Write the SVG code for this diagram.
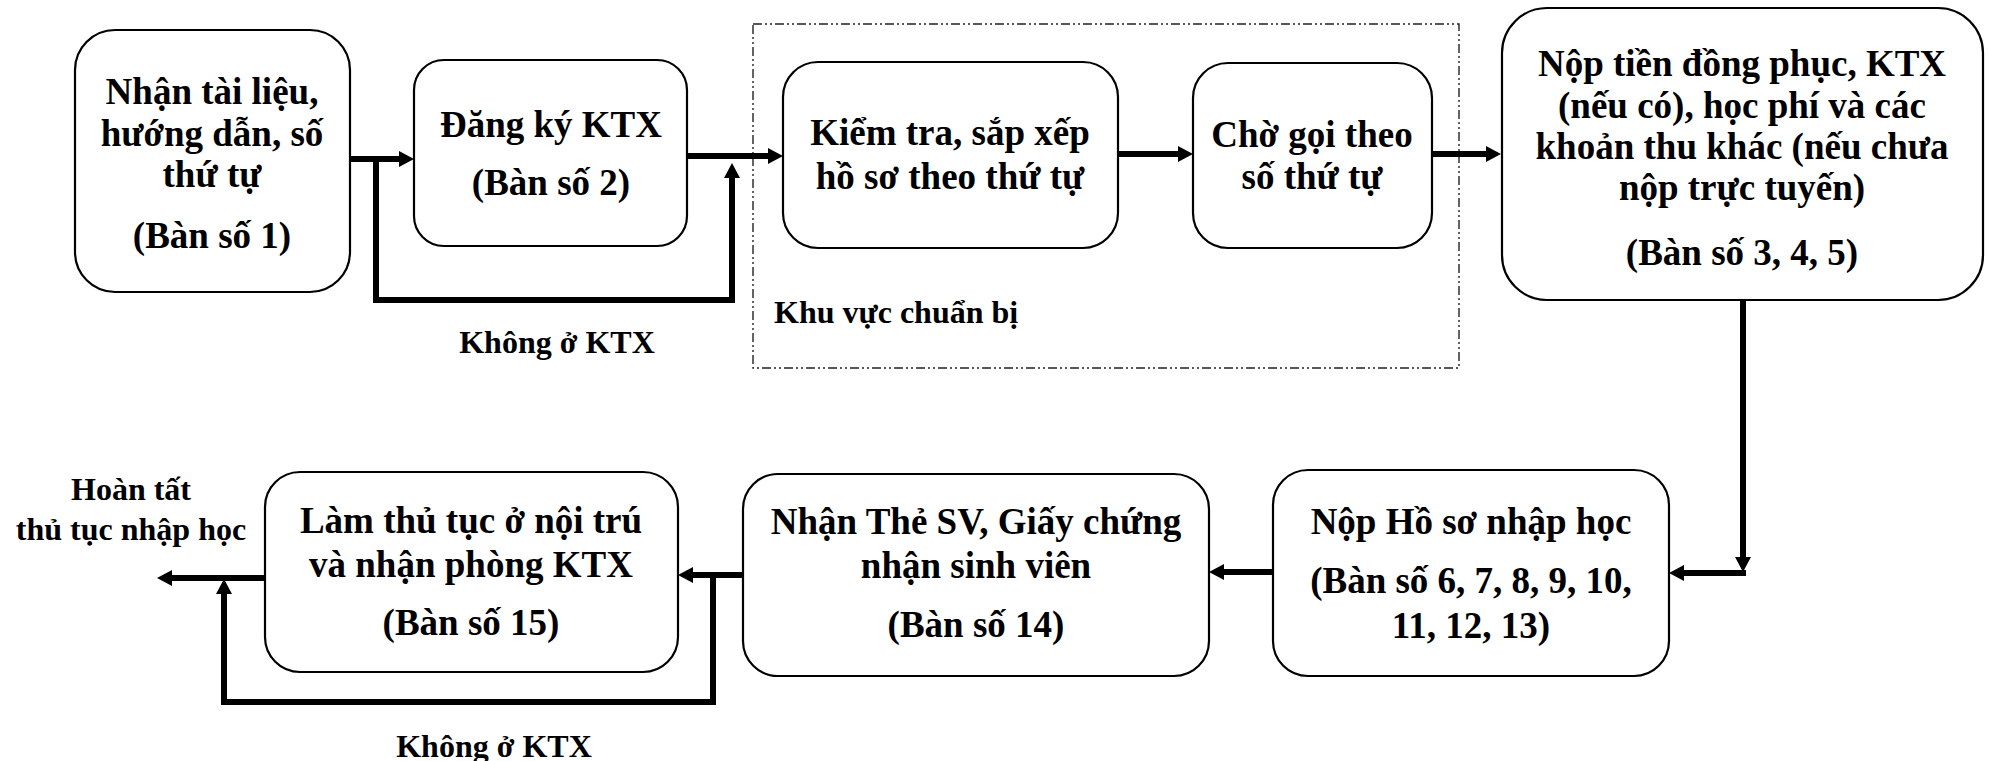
<svg xmlns="http://www.w3.org/2000/svg" width="1989" height="761" viewBox="0 0 1989 761">
<defs>
<style>
.box{fill:#fff;stroke:#000;stroke-width:2.2}
text{font-family:'Liberation Serif','Times New Roman','DejaVu Serif',serif;font-weight:700;fill:#000}
.t{font-size:37px;text-anchor:middle}
.l{font-size:32px}
.c{fill:none;stroke:#000;stroke-width:6;stroke-linejoin:miter}
.zone{fill:none;stroke:#222;stroke-width:1.4;stroke-dasharray:9 3 2 3 2 3}
</style>
<marker id="ah" markerUnits="userSpaceOnUse" markerWidth="16" markerHeight="17" refX="3" refY="8" orient="auto">
<path d="M0,0 L15,8 L0,16 z" fill="#000"/>
</marker>
</defs>
<rect width="1989" height="761" fill="#fff"/>

<g id="zone">
<rect class="zone" x="753" y="24" width="706" height="344"/>
<text class="l" x="774" y="323">Khu vực chuẩn bị</text>
</g>

<g id="connectors">
<path class="c" d="M350,159 H402" marker-end="url(#ah)"/>
<path class="c" d="M376,159 V300 H732 V175" marker-end="url(#ah)"/>
<path class="c" d="M687,156 H771" marker-end="url(#ah)"/>
<path class="c" d="M1118,154 H1181" marker-end="url(#ah)"/>
<path class="c" d="M1432,154 H1489" marker-end="url(#ah)"/>
<path class="c" d="M1743,300 V560" marker-end="url(#ah)"/>
<path class="c" d="M1746,573 H1681" marker-end="url(#ah)"/>
<path class="c" d="M1273,572 H1221" marker-end="url(#ah)"/>
<path class="c" d="M743,575 H690" marker-end="url(#ah)"/>
<path class="c" d="M713,578 V702 H224 V591" marker-end="url(#ah)"/>
<path class="c" d="M265,578 H169" marker-end="url(#ah)"/>
<text class="l" x="557" y="353" text-anchor="middle">Không ở KTX</text>
<text class="l" x="494" y="757" text-anchor="middle">Không ở KTX</text>
<text class="l" x="131" y="500" text-anchor="middle">Hoàn tất</text>
<text class="l" x="131" y="540" text-anchor="middle">thủ tục nhập học</text>
</g>

<g id="n1">
<rect class="box" x="75" y="30" width="275" height="262" rx="40" ry="40"/>
<text class="t" x="212" y="104">Nhận tài liệu,</text>
<text class="t" x="212" y="146">hướng dẫn, số</text>
<text class="t" x="212" y="187">thứ tự</text>
<text class="t" x="212" y="248">(Bàn số 1)</text>
</g>

<g id="n2">
<rect class="box" x="414" y="60" width="273" height="186" rx="30" ry="30"/>
<text class="t" x="551" y="137">Đăng ký KTX</text>
<text class="t" x="551" y="195">(Bàn số 2)</text>
</g>

<g id="n3">
<rect class="box" x="783" y="62" width="335" height="186" rx="35" ry="35"/>
<text class="t" x="950" y="145">Kiểm tra, sắp xếp</text>
<text class="t" x="950" y="189">hồ sơ theo thứ tự</text>
</g>

<g id="n4">
<rect class="box" x="1193" y="63" width="239" height="185" rx="35" ry="35"/>
<text class="t" x="1312" y="147">Chờ gọi theo</text>
<text class="t" x="1312" y="189">số thứ tự</text>
</g>

<g id="n5">
<rect class="box" x="1502" y="8" width="481" height="292" rx="45" ry="45"/>
<text class="t" x="1742" y="76">Nộp tiền đồng phục, KTX</text>
<text class="t" x="1742" y="118">(nếu có), học phí và các</text>
<text class="t" x="1742" y="159">khoản thu khác (nếu chưa</text>
<text class="t" x="1742" y="200">nộp trực tuyến)</text>
<text class="t" x="1742" y="265">(Bàn số 3, 4, 5)</text>
</g>

<g id="n6">
<rect class="box" x="1273" y="470" width="396" height="206" rx="35" ry="35"/>
<text class="t" x="1471" y="534">Nộp Hồ sơ nhập học</text>
<text class="t" x="1471" y="593">(Bàn số 6, 7, 8, 9, 10,</text>
<text class="t" x="1471" y="638">11, 12, 13)</text>
</g>

<g id="n7">
<rect class="box" x="743" y="474" width="466" height="202" rx="35" ry="35"/>
<text class="t" x="976" y="534">Nhận Thẻ SV, Giấy chứng</text>
<text class="t" x="976" y="578">nhận sinh viên</text>
<text class="t" x="976" y="637">(Bàn số 14)</text>
</g>

<g id="n8">
<rect class="box" x="265" y="472" width="413" height="200" rx="35" ry="35"/>
<text class="t" x="471" y="533">Làm thủ tục ở nội trú</text>
<text class="t" x="471" y="577">và nhận phòng KTX</text>
<text class="t" x="471" y="635">(Bàn số 15)</text>
</g>
</svg>
